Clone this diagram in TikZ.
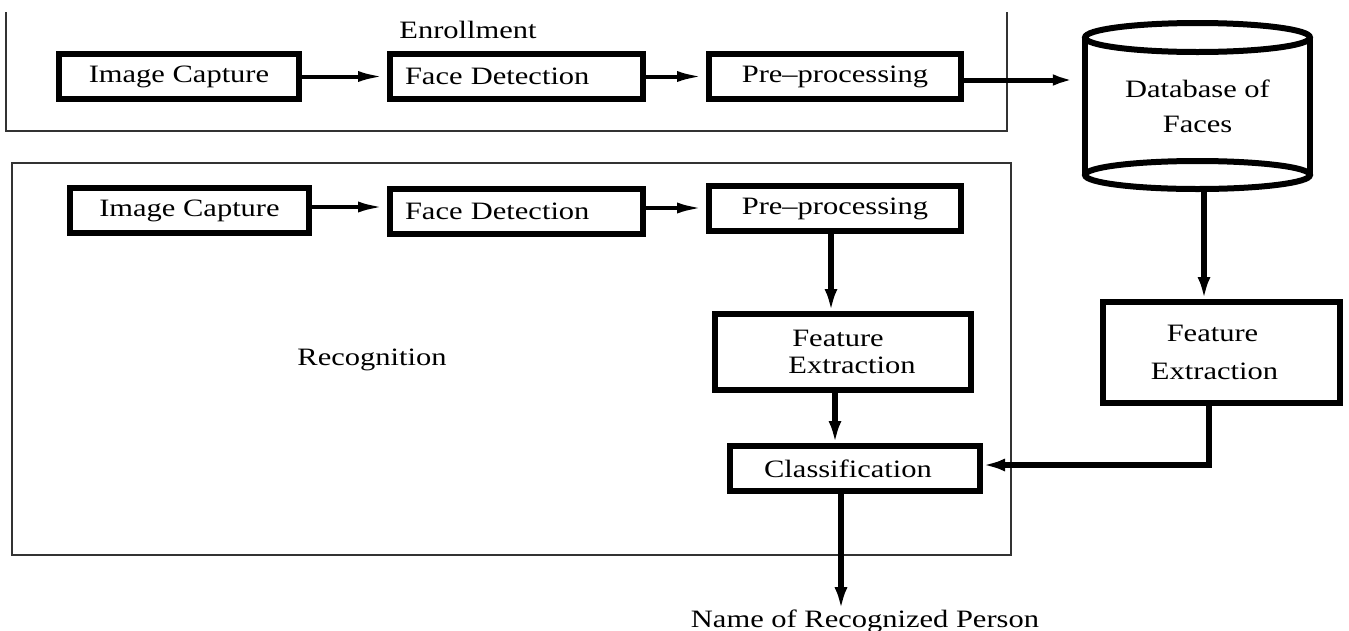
\documentclass[tikz,border=0pt]{standalone}
\usepackage{fontspec}
\setmainfont{Liberation Serif}[FakeStretch=1.22]
\usetikzlibrary{arrows.meta}
\begin{document}
\begin{tikzpicture}[x=1pt,y=-1pt,
  txt/.style={font=\fontsize{25}{35}\selectfont, inner sep=0pt},
  blk/.style={txt, draw, line width=6pt, inner sep=0pt, align=center},
  frm/.style={draw=black!80, line width=2pt},
  cylline/.style={draw, line width=6pt},
  thinconn/.style={line width=4pt, -{Latex[length=26pt,width=11pt]}, shorten >=3pt},
  thickconn/.style={line width=6.5pt, -{Latex[length=22pt,width=13pt]}},
  plainline/.style={line width=6.5pt}
]
\useasboundingbox (0,0) rectangle (1349,630);

% frames
\draw[frm] (6,12) -- (6,131) -- (1007,131) -- (1007,12);
\draw[frm] (12,163) rectangle (1011,555);
\node[txt] (enr) at (468,30) {Enrollment};
\node[txt] (rec) at (372,360) {Recognition};

% enrollment row
\node[blk, minimum width=240pt, minimum height=45pt] (ic1) at (179,76.5) {Image Capture};
\node[blk, minimum width=253pt, minimum height=45pt, text width=223pt, align=left] (fd1) at (516.5,76.5) {Face Detection};
\node[blk, minimum width=252pt, minimum height=45pt] (pp1) at (835,76.5) {Pre--processing};

% database cylinder
\node[txt, align=center, minimum width=231pt, minimum height=172pt, font=\fontsize{25}{35}\selectfont] (db) at (1197.5,106) {Database of\\Faces};
\draw[cylline] (1085,37.5) -- (1085,175);
\draw[cylline] (1310,37.5) -- (1310,175);
\draw[cylline] (1197.5,37.5) ellipse [x radius=112.5, y radius=14.5];
\draw[cylline] (1197.5,175) ellipse [x radius=112.5, y radius=14];

% recognition row
\node[blk, minimum width=239pt, minimum height=45pt] (ic2) at (189.5,210.5) {Image Capture};
\node[blk, minimum width=253pt, minimum height=45pt, text width=223pt, align=left] (fd2) at (516.5,211) {Face Detection};
\node[blk, minimum width=252pt, minimum height=45pt] (pp2) at (835,208.5) {Pre--processing};
\node[blk, minimum width=256pt, minimum height=76pt, font=\fontsize{25}{27}\selectfont] (fe1) at (843,352) {\hspace*{-10pt}Feature\\\hspace*{18pt}Extraction};
\node[blk, minimum width=237pt, minimum height=101pt, font=\fontsize{25}{38}\selectfont] (fe2) at (1221.5,352.5) {\hspace*{-18pt}Feature\\\hspace*{-14pt}Extraction};
\node[blk, minimum width=250pt, minimum height=45pt] (cls) at (855,468.5) {\hspace*{-14pt}Classification};
\node[txt, anchor=base] (out) at (865,627) {Name of Recognized Person};

% connectors
\draw[thinconn] (ic1.east) -- (fd1.west);
\draw[thinconn] (fd1.east) -- (pp1.west);
\draw[thinconn, line width=5pt] ([yshift=-3.5pt]pp1.east) -- ([yshift=-3.5pt]pp1.east -| db.west);
\draw[thinconn] ([yshift=3.5pt]ic2.east) -- ([yshift=3.5pt]ic2.east -| fd2.west);
\draw[thinconn] ([yshift=3pt]fd2.east) -- ([yshift=3pt]fd2.east -| pp2.west);
\draw[thickconn] ([xshift=-4pt]pp2.south) -- ([xshift=-4pt]pp2.south |- fe1.north);
\draw[thickconn] ([xshift=-8pt]fe1.south) -- ([xshift=-8pt]fe1.south |- cls.north);
\draw[thickconn] ([xshift=-14pt]cls.south) -- ([xshift=-14pt]cls.south |- out.north);
\draw[thickconn] ([xshift=6.5pt]db.south) -- ([xshift=6.5pt]db.south |- fe2.north);
\draw[thickconn] ([xshift=-12.5pt]fe2.south) |- ([yshift=3.5pt]cls.east);
\end{tikzpicture}
\end{document}
